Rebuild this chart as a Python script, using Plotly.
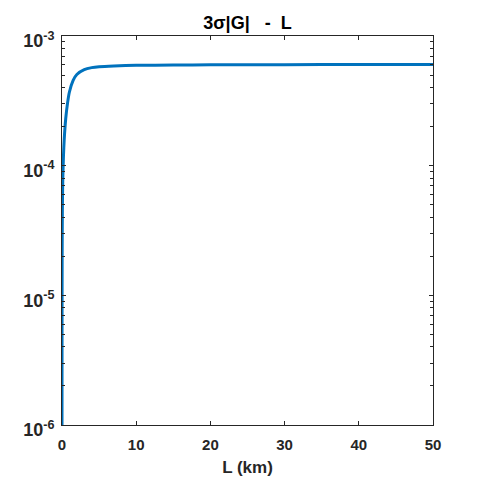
import plotly.graph_objects as go

L_km = [0, 0.005, 0.02, 0.05, 0.1, 0.2, 0.3, 0.5, 0.75, 1, 1.5, 2, 3, 4, 5, 7, 10, 15, 20, 30, 40, 50]
sigma_G = [1e-6, 5e-6, 2e-5, 4.5e-5, 7.5e-5, 1.2e-4, 1.6e-4, 2.3e-4, 3.05e-4, 3.7e-4, 4.55e-4, 5.05e-4,
           5.5e-4, 5.7e-4, 5.8e-4, 5.88e-4, 5.94e-4, 5.97e-4, 5.99e-4, 6.01e-4, 6.02e-4, 6.03e-4]

y_tickvals = [1e-6, 1e-5, 1e-4, 1e-3]
y_ticktext = ["10<sup>-6</sup>", "10<sup>-5</sup>", "10<sup>-4</sup>", "10<sup>-3</sup>"]
y_minor = [m * 10 ** e for e in (-6, -5, -4) for m in range(2, 10)]
x_tickvals = [0, 10, 20, 30, 40, 50]

font = "Liberation Sans, Arial, sans-serif"
axcol = "#262626"

fig = go.Figure()
fig.add_trace(go.Scatter(x=L_km, y=sigma_G, mode="lines",
                         line=dict(color="#0072BD", width=3, shape="spline", smoothing=0.6),
                         showlegend=False))

# page body has an 8px default margin; margins compensate so the plot area lands at 62..433 x 36..425
fig.update_layout(
    width=480, height=480,
    margin=dict(l=54, r=55, t=28, b=63, autoexpand=False),
    paper_bgcolor="white", plot_bgcolor="white",
    title=dict(text="<b>3σ|G|&nbsp;&nbsp;&nbsp;-&nbsp;&nbsp;L</b>", x=0.5, xanchor="center", xref="paper",
               y=1, yref="paper", yanchor="bottom", pad=dict(b=7),
               font=dict(family=font, size=18, color="black")),
    font=dict(family=font, color=axcol),
)
fig.update_xaxes(range=[0, 50], tickmode="array", tickvals=x_tickvals, automargin=False,
                 ticks="inside", ticklen=4, tickcolor=axcol, tickwidth=1,
                 showline=True, linecolor=axcol, linewidth=1, mirror="allticks",
                 showgrid=False, zeroline=False, ticklabelstandoff=6,
                 tickfont=dict(family=font, size=15, color=axcol, weight="bold"),
                 title=dict(text="<b>L (km)</b>", font=dict(family=font, size=17, color=axcol), standoff=9))
fig.update_yaxes(type="log", range=[-6, -3], tickmode="array", tickvals=y_tickvals, ticktext=y_ticktext,
                 automargin=False, ticklabelstandoff=3, ticklabelshift=5,
                 ticks="inside", ticklen=4, tickcolor=axcol, tickwidth=1,
                 minor=dict(tickmode="array", tickvals=y_minor, ticks="inside", ticklen=3, tickcolor=axcol, showgrid=False),
                 showline=True, linecolor=axcol, linewidth=1, mirror="allticks",
                 showgrid=False, zeroline=False,
                 tickfont=dict(family=font, size=18, color=axcol, weight="bold"))

fig.write_html("out.html")
